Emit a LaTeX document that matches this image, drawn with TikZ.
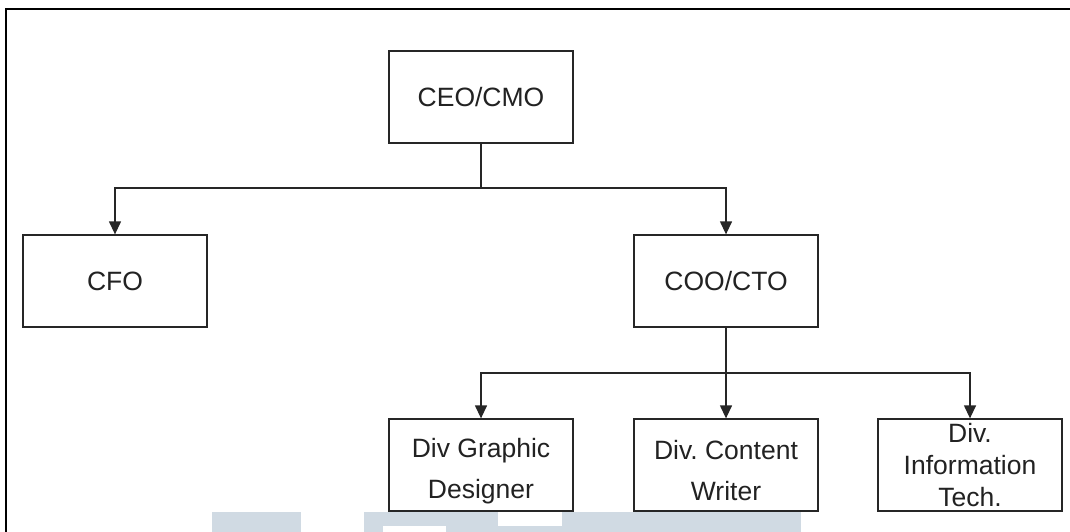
\documentclass[tikz,border=0pt]{standalone}
\usepackage{fontspec}
\setmainfont{Liberation Sans}
\usetikzlibrary{arrows.meta}
\definecolor{wm}{RGB}{208,218,227}
\definecolor{txt}{RGB}{34,34,34}
\newcommand{\dropfirst}{\rule{0pt}{31pt}}
\frenchspacing
\begin{document}
\begin{tikzpicture}[x=1pt,y=-1pt,
  box/.style={draw=black!85,line width=1.3pt,minimum width=184pt,minimum height=92pt,
    inner sep=0pt,align=center,text=txt,font=\fontsize{26.5}{32}\selectfont},
  twoline/.style={font=\fontsize{26.5}{41}\selectfont},
  arr/.style={draw=black!85,line width=1.3pt,-{Triangle[width=12pt,length=13pt]}},
  con/.style={draw=black!85,line width=1.3pt}]
\useasboundingbox (0,0) rectangle (1070,532);
\fill[white] (0,0) rectangle (1070,532);
% watermark blocks
\fill[wm] (212,512) rectangle (301,532);
\fill[wm] (364,512) rectangle (801,532);
\fill[white] (383,526) rectangle (446,532);
\fill[white] (498,512) rectangle (562,526);
% frame
\draw[line width=2.8pt,black] (6,532) -- (6,9) -- (1070,9);
% nodes
\node[box] (ceo) at (481,97) {CEO/CMO};
\node[box] (cfo) at (115,281) {CFO};
\node[box] (coo) at (726,281) {COO/CTO};
\node[box,twoline] (dg) at (481,465) {\dropfirst Div Graphic\\Designer};
\node[box,twoline] (dc) at (726,465) {\dropfirst Div.\ Content\\Writer};
\node[box] (di) at (970,465) {Div.\\Information\\Tech.};
% connectors
\coordinate (j1) at (481,188);
\coordinate (j2) at (726,373);
\draw[con] (ceo.south) -- (j1);
\draw[arr] (j1) -| (cfo.north);
\draw[arr] (j1) -| (coo.north);
\draw[con] (coo.south) -- (j2);
\draw[arr] (j2) -| (dg.north);
\draw[arr] (j2) -- (dc.north);
\draw[arr] (j2) -| (di.north);
\end{tikzpicture}
\end{document}
